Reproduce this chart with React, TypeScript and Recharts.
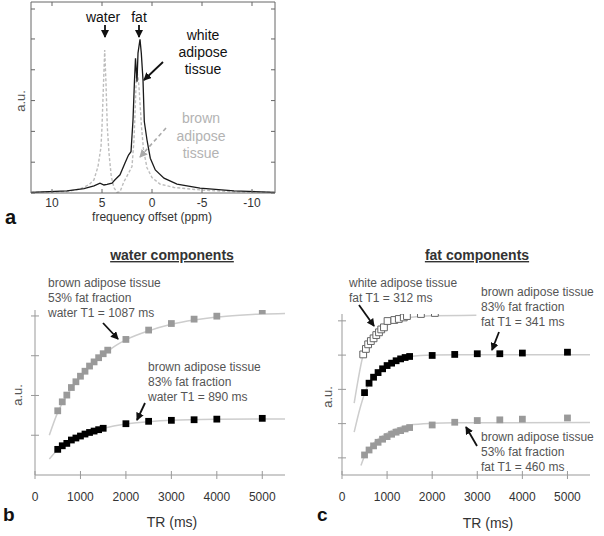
import { LineChart, ComposedChart, Line, Scatter, XAxis, YAxis, ZAxis } from "recharts"

const FONT = "'Liberation Sans', Arial, sans-serif"

// ---- panel a: spectra ----
const ppmTicks = [10, 5, 0, -5, -10]
const spectrumTicks = [0, 1, 2, 3, 4, 5, 6]

const whitePpm = [12.1, 8.5, 6.8, 5.8, 5.2, 4.8, 4.5, 4.0, 3.7, 3.2, 2.7, 2.35, 2.1, 1.9, 1.75, 1.65, 1.5, 1.4, 1.2, 1.07, 0.9, 0.77, 0.5, 0.17, -0.33, -1.2, -2.5, -4.8, -8.2, -12.3]
const whiteSignal = [0.02, 0.07, 0.14, 0.23, 0.32, 0.26, 0.28, 0.32, 0.43, 0.59, 0.97, 1.23, 1.34, 2.37, 3.67, 4.37, 3.61, 4.54, 4.99, 4.54, 3.67, 2.32, 1.72, 1.13, 0.75, 0.48, 0.29, 0.16, 0.07, 0.02]

const brownPpm = [12.1, 8.5, 7.2, 6.3, 5.8, 5.4, 5.1, 5.0, 4.85, 4.73, 4.6, 4.47, 4.3, 4.07, 3.8, 3.5, 3.2, 2.8, 2.35, 2.0, 1.8, 1.65, 1.55, 1.4, 1.3, 1.05, 0.85, 0.5, 0, -0.8, -2.2, -4.8, -8.2, -12.3]
const brownSignal = [0.02, 0.05, 0.13, 0.27, 0.43, 0.86, 1.5, 2.15, 3.56, 4.64, 3.56, 2.15, 1.29, 0.53, 0.17, 0.02, 0.04, 0.37, 0.64, 0.86, 1.72, 3.0, 3.98, 3.77, 3.44, 2.15, 1.4, 0.82, 0.5, 0.29, 0.18, 0.1, 0.04, 0.02]

// ---- panels b and c: saturation recovery ----
const trTicks = [0, 1000, 2000, 3000, 4000, 5000]
const waterTicks = [1, 2, 3, 4, 5, 6, 7, 8]
const fatTicks = [1, 2, 3, 4, 5, 6, 7, 8, 9]

const tr53Water = [500, 600, 700, 800, 900, 1000, 1100, 1200, 1300, 1400, 1500, 1600, 2000, 2500, 3000, 3500, 4000, 5000]
const water53 = [3.23, 3.68, 4.02, 4.4, 4.69, 4.97, 5.22, 5.48, 5.69, 5.9, 6.1, 6.28, 6.82, 7.29, 7.62, 7.84, 7.99, 8.26]
const trBrown = [500, 600, 700, 800, 900, 1000, 1100, 1200, 1300, 1400, 1500, 2000, 2500, 3000, 3500, 4000, 5000]
const water83 = [1.29, 1.47, 1.59, 1.76, 1.86, 1.96, 2.06, 2.14, 2.21, 2.28, 2.35, 2.58, 2.7, 2.75, 2.78, 2.81, 2.85]

const water53FitTr = [315, 500, 700, 900, 1100, 1300, 1500, 1800, 2000, 2500, 3000, 3500, 4000, 4500, 5000, 5500]
const water53Fit = [2.0, 3.15, 4.0, 4.65, 5.2, 5.67, 6.05, 6.55, 6.8, 7.25, 7.58, 7.8, 7.95, 8.04, 8.1, 8.13]
const water83FitTr = [315, 500, 700, 900, 1100, 1300, 1500, 2000, 2500, 3000, 4000, 5500]
const water83Fit = [0.8, 1.27, 1.6, 1.86, 2.06, 2.22, 2.35, 2.57, 2.68, 2.75, 2.8, 2.82]

const fat83 = [4.81, 5.36, 5.71, 5.98, 6.2, 6.39, 6.53, 6.67, 6.78, 6.86, 6.92, 6.98, 7.04, 7.08, 7.08, 7.12, 7.17]
const fat53 = [1.17, 1.46, 1.7, 1.91, 2.09, 2.24, 2.38, 2.5, 2.59, 2.69, 2.77, 2.92, 3.08, 3.18, 3.22, 3.26, 3.33]
const trWhite = [470, 530, 580, 640, 700, 760, 820, 870, 930, 1010, 1160, 1260, 1370, 1440, 1750, 2060]
const fatWhite = [7.04, 7.36, 7.63, 7.82, 7.98, 8.17, 8.33, 8.5, 8.62, 8.99, 9.05, 9.11, 9.2, 9.28, 9.4, 9.46]

const fatWhiteFitTr = [270, 360, 460, 560, 700, 850, 1000, 1250, 1500, 2000, 2980]
const fatWhiteFit = [4.2, 5.6, 6.9, 7.5, 8.0, 8.45, 8.75, 9.05, 9.2, 9.3, 9.32]
const fat83FitTr = [270, 400, 500, 600, 700, 800, 1000, 1200, 1500, 2000, 3000, 5500]
const fat83Fit = [2.5, 3.9, 4.75, 5.35, 5.75, 6.05, 6.45, 6.72, 6.92, 7.0, 7.02, 7.02]
const fat53FitTr = [420, 500, 600, 700, 800, 1000, 1200, 1500, 2000, 2500, 5500]
const fat53Fit = [0.55, 1.1, 1.5, 1.85, 2.1, 2.45, 2.7, 2.92, 3.02, 3.05, 3.06]

const pts = (xs: number[], ys: number[], key = "tr") => xs.map((x, i) => ({ [key]: x, v: ys[i] }))

const BOX = "#666"
const AXIS = "#999"
const FIT = "#cdcdcd"

// inward ticks for the spectrum box
const boxTick = (side: "bottom" | "top" | "left" | "right") => (p: any) => {
  const { x, y, payload } = p
  if (side === "bottom")
    return (
      <g>
        <line x1={x} y1={y} x2={x} y2={y - 4} stroke={BOX} />
        <text x={x} y={y + 10} textAnchor="middle" dominantBaseline="central" fontSize={12} fill="#333" fontFamily={FONT}>
          {payload.value}
        </text>
      </g>
    )
  if (side === "top") return <line x1={x} y1={y} x2={x} y2={y + 4} stroke={BOX} />
  if (side === "left") return <line x1={x} y1={y} x2={x + 4} y2={y} stroke={BOX} />
  return <line x1={x} y1={y} x2={x - 4} y2={y} stroke={BOX} />
}

// crossing ticks for b and c
const crossX = (p: any) => (
  <g>
    <line x1={p.x} y1={p.y - 4} x2={p.x} y2={p.y + 4} stroke={AXIS} />
    <text x={p.x} y={p.y + 22} textAnchor="middle" dominantBaseline="central" fontSize={12} fill="#333" fontFamily={FONT}>
      {p.payload.value}
    </text>
  </g>
)
const crossY = (p: any) => <line x1={p.x - 4} y1={p.y} x2={p.x + 4} y2={p.y} stroke={AXIS} />

function SpectrumChart() {
  return (
    <LineChart width={300} height={240} margin={{ top: 1, right: 24, bottom: 46, left: 30 }}>
      <XAxis xAxisId="b" dataKey="ppm" type="number" domain={[-12.3, 12.1]} reversed allowDataOverflow ticks={ppmTicks}
        height={1} tickSize={0} tickMargin={0} tickLine={false} axisLine={{ stroke: BOX }} tick={boxTick("bottom")} />
      <XAxis xAxisId="t" orientation="top" dataKey="ppm" type="number" domain={[-12.3, 12.1]} reversed allowDataOverflow ticks={ppmTicks}
        height={1} tickSize={0} tickMargin={0} tickLine={false} axisLine={{ stroke: BOX }} tick={boxTick("top")} />
      <YAxis yAxisId="l" dataKey="v" type="number" domain={[0, 6.2]} allowDataOverflow ticks={spectrumTicks}
        width={1} tickSize={0} tickMargin={0} tickLine={false} axisLine={{ stroke: BOX }} tick={boxTick("left")} />
      <YAxis yAxisId="r" orientation="right" dataKey="v" type="number" domain={[0, 6.2]} allowDataOverflow ticks={spectrumTicks}
        width={1} tickSize={0} tickMargin={0} tickLine={false} axisLine={{ stroke: BOX }} tick={boxTick("right")} />
      <Line xAxisId="b" yAxisId="l" data={pts(brownPpm, brownSignal, "ppm")} dataKey="v" type="linear" stroke="#bdbdbd"
        strokeWidth={1.4} strokeDasharray="3 2" dot={false} isAnimationActive={false} />
      <Line xAxisId="b" yAxisId="l" data={pts(whitePpm, whiteSignal, "ppm")} dataKey="v" type="linear" stroke="#1a1a1a"
        strokeWidth={1.3} dot={false} isAnimationActive={false} />
    </LineChart>
  )
}

function RecoveryChart({ kind }: { kind: "water" | "fat" }) {
  const water = kind === "water"
  const top = water ? 8.3 : 9.4
  return (
    <ComposedChart width={water ? 300 : 304} height={296}
      margin={water ? { top: 70, right: 15, bottom: 60, left: 34 } : { top: 74, right: 14, bottom: 60, left: 41 }}>
      <XAxis dataKey="tr" type="number" domain={[0, 5500]} allowDataOverflow ticks={trTicks} height={1} tickSize={0}
        tickMargin={0} tickLine={false} axisLine={{ stroke: AXIS }} tick={crossX} />
      <YAxis dataKey="v" type="number" domain={[0, top]} allowDataOverflow ticks={water ? waterTicks : fatTicks} width={1}
        tickSize={0} tickMargin={0} tickLine={false} axisLine={{ stroke: AXIS }} tick={crossY} />
      <ZAxis range={[46, 46]} />
      {water ? (
        <>
          <Line data={pts(water53FitTr, water53Fit)} dataKey="v" type="monotone" stroke={FIT} strokeWidth={1.5} dot={false} isAnimationActive={false} />
          <Line data={pts(water83FitTr, water83Fit)} dataKey="v" type="monotone" stroke={FIT} strokeWidth={1.5} dot={false} isAnimationActive={false} />
          <Scatter data={pts(tr53Water, water53)} shape="square" fill="#9a9a9a" legendType="none" isAnimationActive={false} />
          <Scatter data={pts(trBrown, water83)} shape="square" fill="#000" legendType="none" isAnimationActive={false} />
        </>
      ) : (
        <>
          <Line data={pts(fatWhiteFitTr, fatWhiteFit)} dataKey="v" type="monotone" stroke={FIT} strokeWidth={1.5} dot={false} isAnimationActive={false} />
          <Line data={pts(fat83FitTr, fat83Fit)} dataKey="v" type="monotone" stroke={FIT} strokeWidth={1.5} dot={false} isAnimationActive={false} />
          <Line data={pts(fat53FitTr, fat53Fit)} dataKey="v" type="monotone" stroke={FIT} strokeWidth={1.5} dot={false} isAnimationActive={false} />
          <Scatter data={pts(trWhite, fatWhite)} shape="square" fill="#fff" stroke="#666" strokeWidth={1} legendType="none" isAnimationActive={false} />
          <Scatter data={pts(trBrown, fat83)} shape="square" fill="#000" legendType="none" isAnimationActive={false} />
          <Scatter data={pts(trBrown, fat53)} shape="square" fill="#9a9a9a" legendType="none" isAnimationActive={false} />
        </>
      )}
    </ComposedChart>
  )
}

function Arrow({ x1, y1, x2, y2, gray }: { x1: number; y1: number; x2: number; y2: number; gray?: boolean }) {
  return (
    <line x1={x1} y1={y1} x2={x2} y2={y2} stroke={gray ? "#aaa" : "#111"} strokeWidth={gray ? 1.6 : 1.8}
      strokeDasharray={gray ? "4 3" : undefined} markerEnd={gray ? "url(#ahGray)" : "url(#ahBlack)"} />
  )
}

function Lines({ x, y, lines, size = 12, fill = "#555", anchor = "start", gap = 15 }: any) {
  return (
    <text x={x} y={y} fontSize={size} fill={fill} fontFamily={FONT} textAnchor={anchor} dominantBaseline="central">
      {lines.map((l: string, i: number) => (
        <tspan key={i} x={x} y={y + i * gap}>{l}</tspan>
      ))}
    </text>
  )
}

function Overlay() {
  return (
    <svg width={604} height={536} style={{ position: "absolute", left: 0, top: 0, pointerEvents: "none" }}>
      <defs>
        <marker id="ahBlack" markerWidth={8} markerHeight={8} refX={7} refY={4} orient="auto" markerUnits="userSpaceOnUse">
          <path d="M0,0 L8,4 L0,8 z" fill="#111" />
        </marker>
        <marker id="ahGray" markerWidth={8} markerHeight={8} refX={7} refY={4} orient="auto" markerUnits="userSpaceOnUse">
          <path d="M0,0 L8,4 L0,8 z" fill="#aaa" />
        </marker>
      </defs>

      {/* panel a */}
      <Lines x={103} y={17} lines={["water"]} size={14} fill="#111" anchor="middle" />
      <Lines x={139} y={17} lines={["fat"]} size={14} fill="#111" anchor="middle" />
      <Arrow x1={105} y1={25} x2={105} y2={37} />
      <Arrow x1={139} y1={25} x2={139} y2={37} />
      <Lines x={203} y={35} lines={["white", "adipose", "tissue"]} size={14} fill="#111" anchor="middle" gap={17} />
      <Arrow x1={163} y1={62} x2={144} y2={80} />
      <Lines x={201} y={118} lines={["brown", "adipose", "tissue"]} size={14} fill="#b3b3b3" anchor="middle" gap={17.5} />
      <Arrow x1={166} y1={128} x2={140} y2={157} gray />
      <text x={20} y={101} fontSize={13} fill="#555" fontFamily={FONT} textAnchor="middle" dominantBaseline="central" transform="rotate(-90 20 101)">a.u.</text>
      <Lines x={152} y={217} lines={["frequency offset (ppm)"]} fill="#333" anchor="middle" />
      <text x={5} y={224} fontSize={20} fontWeight="bold" fill="#111" fontFamily={FONT}>a</text>

      {/* panel b */}
      <text x={172} y={260} fontSize={14} fontWeight="bold" fill="#333" fontFamily={FONT} textAnchor="middle" style={{ textDecoration: "underline" }}>water components</text>
      <Lines x={48} y={283} lines={["brown adipose tissue", "53% fat fraction", "water T1 = 1087 ms"]} />
      <Arrow x1={103} y1={323} x2={118} y2={339} />
      <Lines x={148} y={367} lines={["brown adipose tissue", "83% fat fraction", "water T1 = 890 ms"]} />
      <Arrow x1={145} y1={403} x2={137} y2={420} />
      <text x={17} y={395} fontSize={13} fill="#555" fontFamily={FONT} textAnchor="middle" dominantBaseline="central" transform="rotate(-90 17 395)">a.u.</text>
      <Lines x={172} y={522} lines={["TR (ms)"]} size={14} fill="#333" anchor="middle" />
      <text x={3} y={521} fontSize={19} fontWeight="bold" fill="#111" fontFamily={FONT}>b</text>

      {/* panel c */}
      <text x={477} y={260} fontSize={14} fontWeight="bold" fill="#333" fontFamily={FONT} textAnchor="middle" style={{ textDecoration: "underline" }}>fat components</text>
      <Lines x={349} y={283} lines={["white adipose tissue", "fat T1 = 312 ms"]} />
      <Arrow x1={359} y1={305} x2={374} y2={326} />
      <Lines x={481} y={292} lines={["brown adipose tissue", "83% fat fraction", "fat T1 = 341 ms"]} />
      <Arrow x1={499} y1={332} x2={492} y2={350} />
      <Lines x={481} y={437} lines={["brown adipose tissue", "53% fat fraction", "fat T1 = 460 ms"]} />
      <Arrow x1={477} y1={446} x2={466} y2={427} />
      <text x={327} y={397} fontSize={13} fill="#555" fontFamily={FONT} textAnchor="middle" dominantBaseline="central" transform="rotate(-90 327 397)">a.u.</text>
      <Lines x={488} y={523} lines={["TR (ms)"]} size={14} fill="#333" anchor="middle" />
      <text x={317} y={521} fontSize={19} fontWeight="bold" fill="#111" fontFamily={FONT}>c</text>
    </svg>
  )
}

export default function App() {
  return (
    <div style={{ position: "absolute", left: 0, top: 0, width: 604, height: 536, background: "#fff", fontFamily: FONT }}>
      <div style={{ position: "absolute", left: 0, top: 0 }}>
        <SpectrumChart />
      </div>
      <div style={{ position: "absolute", left: 0, top: 240 }}>
        <RecoveryChart kind="water" />
      </div>
      <div style={{ position: "absolute", left: 300, top: 240 }}>
        <RecoveryChart kind="fat" />
      </div>
      <Overlay />
    </div>
  )
}
